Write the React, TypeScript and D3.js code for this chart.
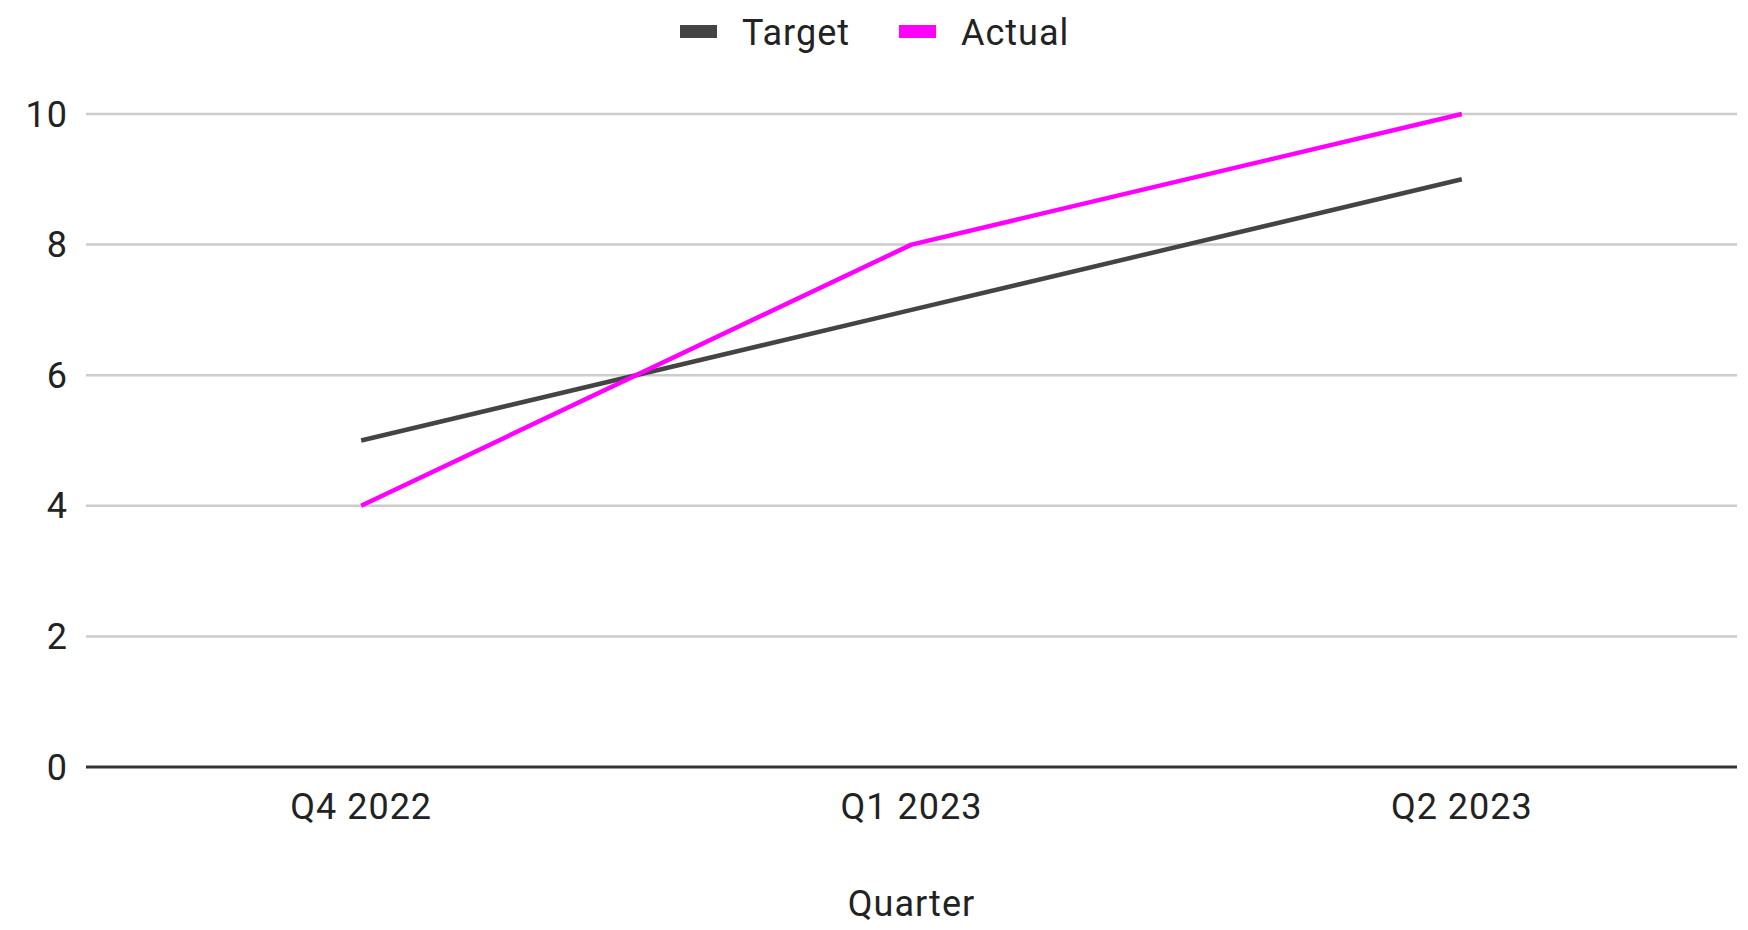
import React, { useEffect } from "react";
import * as d3 from "d3";

const categories = ["Q4 2022", "Q1 2023", "Q2 2023"];
const targetValues = [5, 7, 9];
const actualValues = [4, 8, 10];
const yTicks = [0, 2, 4, 6, 8, 10];
const seriesNames = ["Target", "Actual"];
const seriesColors = ["#444444", "#ff00ff"];

const W = 1748;
const H = 930;
const left = 86;
const right = 1737;
const top = 114;
const bottom = 767;
const FONT = "Roboto, Arial, sans-serif";
const LS = 1;

export default function App() {
  useEffect(() => {
    document.body.style.margin = "0";
  }, []);

  const x = d3.scaleBand<string>().domain(categories).range([left, right]).padding(0);
  const y = d3.scaleLinear().domain([0, 10]).range([bottom, top]);
  const line = d3
    .line<number>()
    .x((_, i) => (x(categories[i]) as number) + x.bandwidth() / 2)
    .y((d) => y(d));

  const series = [targetValues, actualValues];

  return (
    <svg width={W} height={H} style={{ display: "block", position: "absolute", left: 0, top: 0 }} fontFamily={FONT}>
      <rect width={W} height={H} fill="#ffffff" />
      {yTicks.filter((t) => t !== 0).map((t) => (
        <line key={t} x1={left} x2={right} y1={y(t)} y2={y(t)} stroke="#cccccc" strokeWidth={2.5} />
      ))}
      {yTicks.map((t) => (
        <text key={"l" + t} x={68} y={y(t)} dy="0.35em" textAnchor="end" fontSize={36} letterSpacing={LS} fill="#222222">
          {t}
        </text>
      ))}
      {series.map((s, i) => (
        <path key={i} d={line(s) || ""} fill="none" stroke={seriesColors[i]} strokeWidth={4.5} strokeLinejoin="round" />
      ))}
      <line x1={left} x2={right} y1={y(0)} y2={y(0)} stroke="#333333" strokeWidth={3} />
      {categories.map((c) => (
        <text key={c} x={(x(c) as number) + x.bandwidth() / 2} y={819} textAnchor="middle" fontSize={36} letterSpacing={LS} fill="#222222">
          {c}
        </text>
      ))}
      <text x={(left + right) / 2} y={916} textAnchor="middle" fontSize={36} letterSpacing={LS} fill="#222222">
        Quarter
      </text>
      {seriesNames.map((n, i) => {
        const lx = [680, 899][i];
        return (
          <g key={n}>
            <rect x={lx} y={25} width={37} height={13} fill={seriesColors[i]} />
            <text x={lx + 62} y={45} fontSize={36} letterSpacing={LS} fill="#222222">
              {n}
            </text>
          </g>
        );
      })}
    </svg>
  );
}
